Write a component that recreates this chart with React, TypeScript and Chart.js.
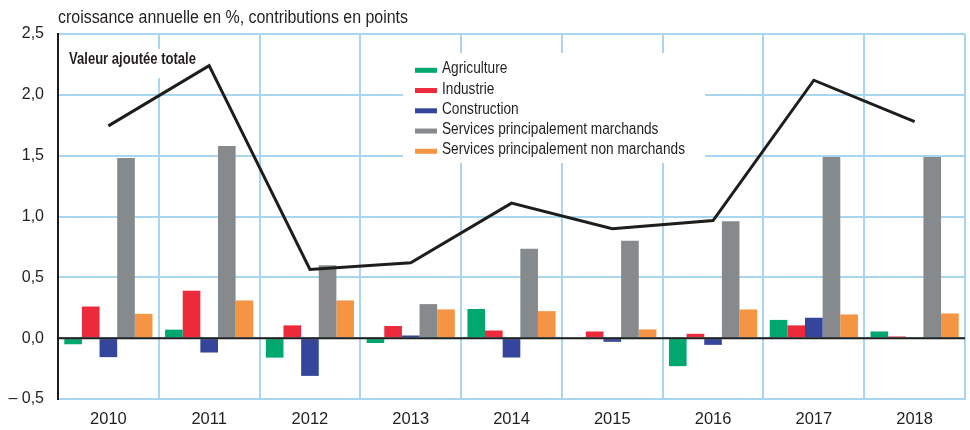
import React, { useEffect, useRef } from 'react';
import { Chart, registerables } from 'chart.js';

Chart.register(...registerables);

const years = ['2010', '2011', '2012', '2013', '2014', '2015', '2016', '2017', '2018'];
const agriculture = [-0.05, 0.07, -0.16, -0.04, 0.24, 0, -0.23, 0.15, 0.055];
const industrie = [0.26, 0.39, 0.105, 0.1, 0.063, 0.055, 0.036, 0.105, 0.014];
const construction = [-0.156, -0.118, -0.31, 0.022, -0.159, -0.03, -0.055, 0.168, 0];
const servicesMarchands = [1.48, 1.58, 0.6, 0.28, 0.735, 0.8, 0.96, 1.49, 1.49];
const servicesNonMarchands = [0.2, 0.31, 0.31, 0.236, 0.222, 0.072, 0.236, 0.195, 0.203];
const valeurAjoutee = [1.745, 2.24, 0.565, 0.62, 1.11, 0.9, 0.967, 2.12, 1.78];

const yMin = -0.5;
const yMax = 2.5;
const yStep = 0.5;

const title = 'croissance annuelle en %, contributions en points';
const lineLabel = 'Valeur ajoutée totale';
const seriesNames = [
  'Agriculture',
  'Industrie',
  'Construction',
  'Services principalement marchands',
  'Services principalement non marchands',
];
const seriesColors = ['#00a870', '#ec2a3b', '#35459b', '#878a8d', '#f59442'];

const FONT = "'Liberation Sans', Arial, sans-serif";
const TEXT = '#231f20';
const GRID = '#a9d6ef';

// draw text horizontally condensed so that it fits a given width
function condensedText(ctx: any, text: string, x: number, y: number, font: string, width: number) {
  ctx.font = font;
  const w = ctx.measureText(text).width;
  const sx = width / w;
  ctx.save();
  ctx.translate(x, y);
  ctx.scale(sx, 1);
  ctx.fillText(text, 0, 0);
  ctx.restore();
  return sx;
}

const decorPlugin = {
  id: 'decor',
  beforeDatasetsDraw(chart: any) {
    const ctx = chart.ctx;
    ctx.save();
    ctx.fillStyle = '#ffffff';
    ctx.fillRect(62, 49, 146, 29);
    ctx.fillRect(403, 53, 302, 110);
    ctx.restore();
  },
  afterDatasetsDraw(chart: any) {
    const ctx = chart.ctx;
    const area = chart.chartArea;
    const y0 = chart.scales.y.getPixelForValue(0);
    ctx.save();
    ctx.strokeStyle = '#1d1d1b';
    ctx.lineWidth = 2;
    ctx.beginPath();
    ctx.moveTo(area.left, y0);
    ctx.lineTo(area.right, y0);
    ctx.stroke();
    ctx.restore();
  },
  afterDraw(chart: any) {
    const ctx = chart.ctx;
    ctx.save();
    ctx.fillStyle = TEXT;
    ctx.textBaseline = 'alphabetic';
    ctx.textAlign = 'left';
    condensedText(ctx, title, 58, 22.5, `17.5px ${FONT}`, 350);
    condensedText(ctx, lineLabel, 69, 64, `bold 17px ${FONT}`, 127);
    // legend: scale derived from longest label
    ctx.font = `16px ${FONT}`;
    const longest = seriesNames[4];
    const sx = 243 / ctx.measureText(longest).width;
    for (let i = 0; i < seriesNames.length; i++) {
      const base = 73.3 + i * 20.25;
      ctx.fillStyle = seriesColors[i];
      ctx.fillRect(415, base - 5.5, 22, 5);
      ctx.fillStyle = TEXT;
      ctx.save();
      ctx.translate(442, base);
      ctx.scale(sx, 1);
      ctx.fillText(seriesNames[i], 0, 0);
      ctx.restore();
    }
    ctx.restore();
  },
};

export default function App() {
  const ref = useRef<HTMLCanvasElement | null>(null);
  useEffect(() => {
    document.body.style.margin = '0';
    if (!ref.current) return;
    const barSets = [agriculture, industrie, construction, servicesMarchands, servicesNonMarchands].map(
      (d, i) => ({
        type: 'bar' as const,
        label: seriesNames[i],
        data: d,
        backgroundColor: seriesColors[i],
        borderWidth: 0,
        categoryPercentage: 0.875,
        barPercentage: 1.0,
        order: 2,
      })
    );
    const chart = new Chart(ref.current, {
      type: 'bar',
      data: {
        labels: years,
        datasets: [
          ...barSets,
          {
            type: 'line' as const,
            label: lineLabel,
            data: valeurAjoutee,
            borderColor: '#1d1d1b',
            borderWidth: 3,
            pointRadius: 0,
            tension: 0,
            borderJoinStyle: 'miter',
            order: 1,
          } as any,
        ],
      },
      options: {
        responsive: false,
        animation: false,
        layout: { padding: { top: 34, right: 5, left: 0, bottom: 0 } },
        plugins: { legend: { display: false }, tooltip: { enabled: false } },
        scales: {
          x: {
            offset: true,
            grid: { color: GRID, lineWidth: 2, drawTicks: false, offset: true },
            border: { color: GRID, width: 2 },
            ticks: { color: TEXT, font: { family: FONT, size: 16.5 }, padding: 11 },
            afterFit: (s: any) => {
              s.height = 31;
            },
          },
          y: {
            min: yMin,
            max: yMax,
            grid: { color: GRID, lineWidth: 2, drawTicks: false },
            border: { color: '#1d1d1b', width: 2 },
            ticks: {
              stepSize: yStep,
              color: TEXT,
              font: { family: FONT, size: 16 },
              padding: 14,
              callback: (v: any) => {
                const n = Number(v);
                const s = Math.abs(n).toFixed(1).replace('.', ',');
                return n < 0 ? '– ' + s : s;
              },
            },
            afterFit: (s: any) => {
              s.width = 58;
            },
          },
        },
      },
      plugins: [decorPlugin],
    } as any);
    return () => chart.destroy();
  }, []);
  return (
    <div style={{ width: 970, height: 430 }}>
      <canvas ref={ref} width={970} height={430} style={{ display: 'block' }} />
    </div>
  );
}
